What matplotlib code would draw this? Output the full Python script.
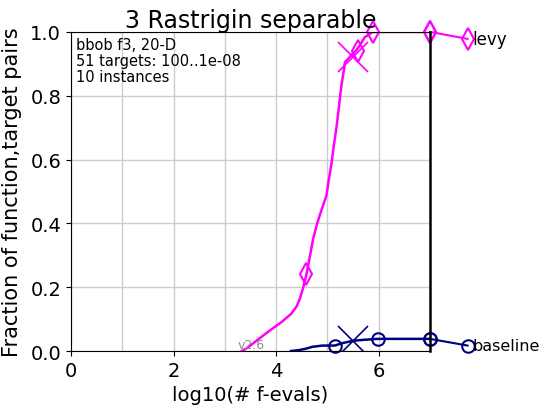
import numpy as np
import matplotlib
matplotlib.use('Agg')
import matplotlib.pyplot as plt

# ECDF of runtimes (x = log10 evals, y = fraction)
levy_x = [3.33, 3.44, 3.6, 3.84, 4.1, 4.29, 4.4, 4.46, 4.53, 4.59, 4.65, 4.72, 4.80, 4.90,
          4.98, 5.03, 5.08, 5.13, 5.18, 5.22, 5.27, 5.32, 5.34, 5.40, 5.48, 5.55, 5.62,
          5.73, 5.80, 5.88, 7.0]
levy_y = [0.0, 0.01, 0.03, 0.06, 0.09, 0.116, 0.14, 0.163, 0.20, 0.24, 0.29, 0.351, 0.40, 0.45,
          0.487, 0.54, 0.59, 0.65, 0.706, 0.76, 0.83, 0.88, 0.905, 0.915, 0.93, 0.94, 0.955,
          0.984, 0.99, 1.0, 1.0]
levy_mx = [4.59, 5.59, 5.88, 7.0]
levy_my = [0.24, 0.94, 1.0, 1.0]
levy_end = ([7.0, 7.73], [1.0, 0.978])
levy_cross = (5.5, 0.92)

base_x = [4.29, 4.45, 4.6, 4.7, 4.9, 5.14, 5.3, 5.5, 5.7, 5.98, 7.0]
base_y = [0.0, 0.003, 0.008, 0.013, 0.017, 0.017, 0.025, 0.032, 0.035, 0.038, 0.038]
base_mx = [5.14, 5.98, 7.0]
base_my = [0.017, 0.038, 0.038]
base_end = ([7.0, 7.73], [0.038, 0.017])
base_cross = (5.5, 0.032)

fig = plt.figure(figsize=(5.41, 4.06), dpi=100)
ax = fig.add_axes([0.131, 0.133, 0.664, 0.786])

# levy
ax.plot(levy_x, levy_y, color='magenta', lw=1.8)
ax.plot(levy_mx, levy_my, ls='none', marker='d', ms=11, mfc='none', mec='magenta', mew=1.5, clip_on=False)
ax.plot(*levy_end, color='magenta', lw=1.5, marker='d', ms=11, mfc='none', mec='magenta', mew=1.5, clip_on=False)
ax.plot(*levy_cross, marker='x', ms=22, color='magenta', mew=1.2)
ax.text(7.83, 0.978, 'levy', fontsize=12, va='center', ha='left')

# baseline
ax.plot(base_x, base_y, color='navy', lw=1.8)
ax.plot(base_mx, base_my, ls='none', marker='o', ms=9, mfc='none', mec='navy', mew=1.5, clip_on=False)
ax.plot(*base_end, color='navy', lw=1.5, marker='o', ms=9, mfc='none', mec='navy', mew=1.5, clip_on=False)
ax.plot(*base_cross, marker='x', ms=22, color='navy', mew=1.2)
ax.text(7.83, 0.017, 'baseline', fontsize=11.5, va='center', ha='left')

ax.set_xlim(0, 7)
ax.set_ylim(0, 1)
ax.set_xticks([0, 2, 4, 6])
ax.set_xticks([1, 3, 5, 7], minor=True)
ax.tick_params(axis='x', which='minor', length=0)
ax.set_yticks(np.arange(0, 1.01, 0.2))
ax.tick_params(labelsize=14)
ax.grid(True, which='both', color='0.8', lw=1)
ax.spines['right'].set_linewidth(1.8)

ax.set_title('3 Rastrigin separable', fontsize=17, pad=2)
ax.set_xlabel('log10(# f-evals)', fontsize=14)
ax.set_ylabel('Fraction of function,target pairs', fontsize=15, labelpad=6)
ax.text(0.1, 0.985, 'bbob f3, 20-D\n51 targets: 100..1e-08\n10 instances',
        fontsize=10.5, va='top', ha='left', linespacing=1.1)
ax.text(3.25, 0.0, 'v2.6', fontsize=9, color='0.55', va='bottom')

plt.savefig('out.png', dpi=100)
